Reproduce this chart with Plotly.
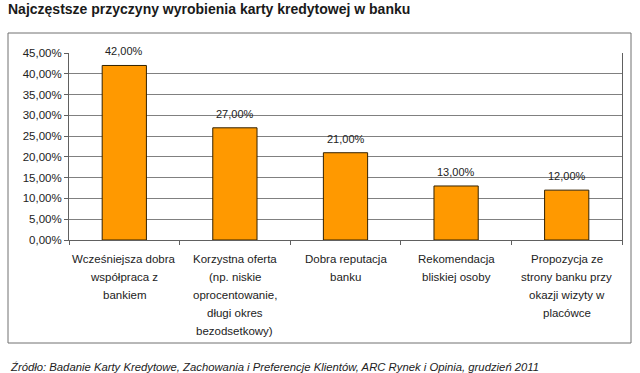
import plotly.graph_objects as go

title = "Najczęstsze przyczyny wyrobienia karty kredytowej w banku"
source = "Źródło: Badanie Karty Kredytowe, Zachowania i Preferencje Klientów, ARC Rynek i Opinia, grudzień 2011"

categories = ["c1", "c2", "c3", "c4", "c5"]
category_lines = [
    ["Wcześniejsza dobra", "współpraca z", "bankiem"],
    ["Korzystna oferta", "(np. niskie", "oprocentowanie,", "długi okres", "bezodsetkowy)"],
    ["Dobra reputacja", "banku"],
    ["Rekomendacja", "bliskiej osoby"],
    ["Propozycja ze", "strony banku przy", "okazji wizyty w", "placówce"],
]
values = [0.42, 0.27, 0.21, 0.13, 0.12]
value_labels = ["42,00%", "27,00%", "21,00%", "13,00%", "12,00%"]

FONT = "Liberation Sans, Arial, sans-serif"
TXT = "#222222"

# plot area in pixels
PL, PR, PT, PB = 69, 622, 53, 240
PW, PH = PR - PL, PB - PT

def px_x(x):
    return (x - PL) / PW

def px_y(y):
    return (PB - y) / PH

fig = go.Figure()
fig.add_trace(go.Bar(
    x=categories, y=values,
    marker=dict(color="#FF9900", line=dict(color="#332200", width=1)),
    width=0.4, hoverinfo="skip",
))

ann = []
for c, v, lab in zip(categories, values, value_labels):
    ann.append(dict(x=c, y=v, xref="x", yref="y", text=lab, showarrow=False,
                    yanchor="middle", yshift=14, font=dict(family=FONT, size=11, color=TXT)))
for c, lines in zip(categories, category_lines):
    for j, line in enumerate(lines):
        ann.append(dict(x=c, y=0, xref="x", yref="y", text=line, showarrow=False,
                        yanchor="middle", yshift=-(19 + 18 * j),
                        font=dict(family=FONT, size=11.5, color=TXT)))
ann.append(dict(x=px_x(8), y=px_y(367), xref="paper", yref="paper", text="<i>" + source + "</i>",
                showarrow=False, xanchor="left", yanchor="middle",
                font=dict(family=FONT, size=11.3, color=TXT)))

fig.update_layout(
    width=640, height=373,
    margin=dict(l=PL, r=640 - PR, t=PT, b=373 - PB, autoexpand=False),
    paper_bgcolor="white", plot_bgcolor="white",
    separators=",.",
    showlegend=False,
    title=dict(text="<b>" + title + "</b>", x=8 / 640, xanchor="left", xref="container",
               y=1 - 9 / 373, yanchor="middle", yref="container",
               font=dict(family=FONT, size=14, color="#1a1a1a")),
    font=dict(family=FONT, size=11.5, color=TXT),
    annotations=ann,
    shapes=[dict(type="rect", xref="paper", yref="paper",
                 x0=px_x(8), x1=px_x(631), y0=px_y(343), y1=px_y(33),
                 line=dict(color="#707070", width=1), fillcolor="rgba(0,0,0,0)", layer="below")],
)
fig.update_xaxes(showticklabels=False, ticks="outside", tickson="boundaries", ticklen=4,
                 tickcolor="#606060", showline=True, linecolor="#606060", linewidth=1,
                 showgrid=False, range=[-0.5, 4.5])
fig.update_yaxes(range=[0, 0.45], dtick=0.05, tickformat=".2%", ticks="outside", ticklen=4,
                 tickcolor="#606060", showline=True, linecolor="#606060", linewidth=1, mirror=True,
                 showgrid=True, gridcolor="#808080", gridwidth=1, zeroline=False,
                 tickfont=dict(family=FONT, size=11.5, color=TXT))

fig.write_html("out.html", config={"displayModeBar": False},
               post_script="document.body.style.margin='0';document.body.style.overflow='hidden';")
